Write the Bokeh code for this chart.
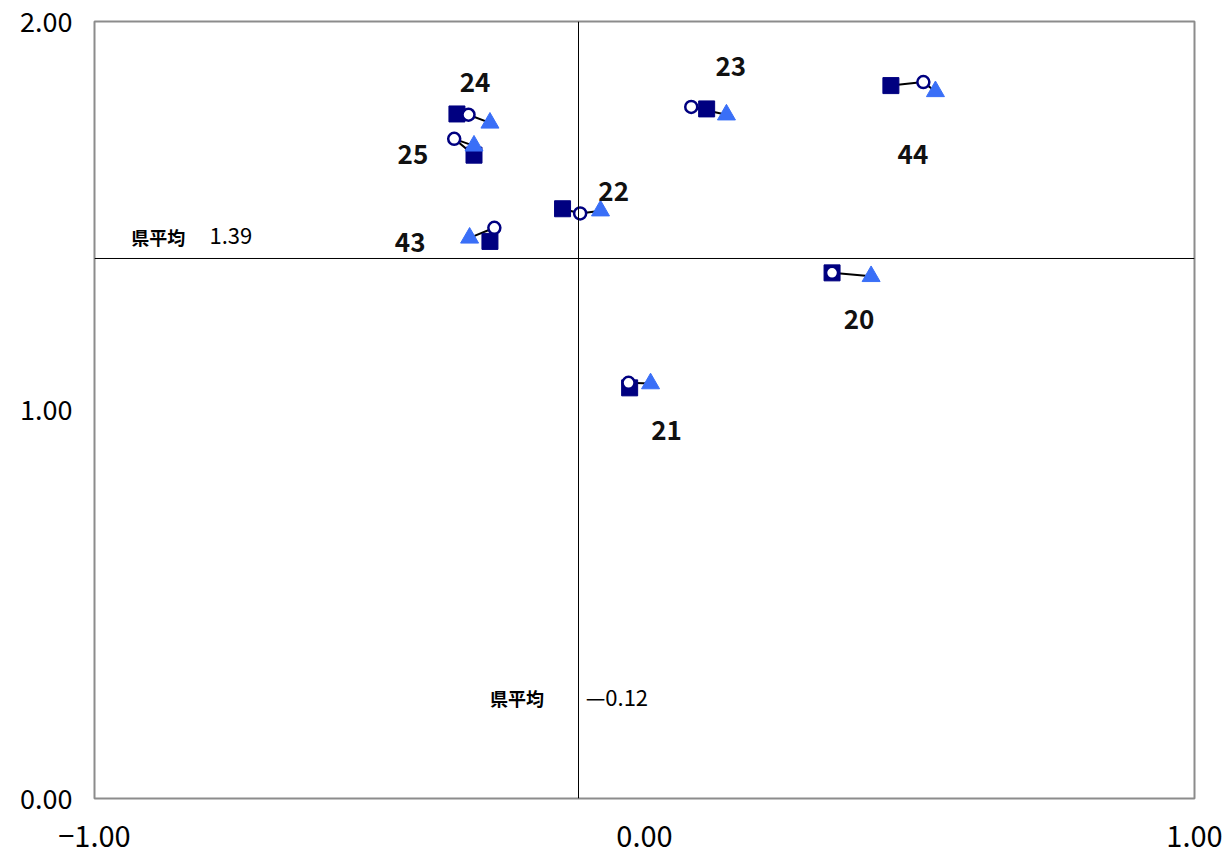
from bokeh.plotting import figure
from bokeh.models import Range1d, FixedTicker, Span
from bokeh.core.properties import value
from bokeh.embed import file_html
from bokeh.resources import INLINE

# ---- data ----
groups = ["24", "25", "22", "43", "23", "44", "20", "21"]
sq_x = [-0.341, -0.310, -0.149, -0.281, 0.113, 0.448, 0.341, -0.027]
sq_y = [1.762, 1.656, 1.518, 1.434, 1.775, 1.835, 1.353, 1.057]
ci_x = [-0.320, -0.346, -0.117, -0.273, 0.085, 0.507, 0.341, -0.029]
ci_y = [1.760, 1.698, 1.506, 1.469, 1.780, 1.844, 1.353, 1.070]
tr_x = [-0.281, -0.310, -0.080, -0.318, 0.149, 0.529, 0.412, 0.011]
tr_y = [1.739, 1.680, 1.513, 1.443, 1.760, 1.820, 1.344, 1.068]

# group label positions (data units)
lab_x = [-0.308, -0.421, -0.056, -0.426, 0.157, 0.488, 0.390, 0.040]
lab_y = [1.843, 1.658, 1.563, 1.432, 1.884, 1.658, 1.234, 0.946]

avg_x = -0.12
avg_y = 1.39

x_ticks = [-1, 0, 1]
x_tick_labels = ["\u22121.00", "0.00", "1.00"]
y_ticks = [0, 1, 2]
y_tick_labels = ["0.00", "1.00", "2.00"]

FONT = "Noto Sans CJK JP"

p = figure(width=1229, height=854,
           x_range=Range1d(-1, 1), y_range=Range1d(0, 2),
           output_backend="svg", toolbar_location=None,
           min_border_left=94, min_border_right=35,
           min_border_top=21, min_border_bottom=56)
p.grid.visible = False
p.outline_line_color = "#8c8c8c"
p.outline_line_width = 2
p.background_fill_color = "white"

for ax in (p.xaxis[0], p.yaxis[0]):
    ax.axis_line_color = None
    ax.major_tick_line_color = None
    ax.minor_tick_line_color = None
    ax.major_label_text_font = FONT
    ax.major_label_text_color = "black"

p.xaxis.major_label_text_font_size = "29px"
p.yaxis.major_label_text_font_size = "27px"

p.xaxis.ticker = FixedTicker(ticks=x_ticks)
p.xaxis.major_label_overrides = dict(zip(x_ticks, x_tick_labels))
p.xaxis.major_label_standoff = 21
p.yaxis.ticker = FixedTicker(ticks=y_ticks)
p.yaxis.major_label_overrides = dict(zip(y_ticks, y_tick_labels))
p.yaxis.major_label_standoff = 16

p.add_layout(Span(location=avg_x, dimension="height", line_color="black", line_width=1))
p.add_layout(Span(location=avg_y, dimension="width", line_color="black", line_width=1))

xs = [[a, b, c] for a, b, c in zip(sq_x, ci_x, tr_x)]
ys = [[a, b, c] for a, b, c in zip(sq_y, ci_y, tr_y)]
p.multi_line(xs=xs, ys=ys, line_color="black", line_width=2)

p.scatter(x=sq_x, y=sq_y, marker="square", size=16,
          fill_color="#000080", line_color="#000080")
p.scatter(x=ci_x, y=ci_y, marker="circle", size=12,
          fill_color="white", line_color="#000080", line_width=2.5)
p.scatter(x=tr_x, y=tr_y, marker="triangle", size=18,
          fill_color="#3a6ff7", line_color="#3a6ff7")

p.text(x=lab_x, y=lab_y, text=groups, text_font=value(FONT),
       text_font_size="26px", text_font_style="bold",
       text_align="center", text_baseline="middle", text_color="#111111")

# average annotations
p.text(x=[-0.933], y=[1.445], text=["県平均"], text_font=value(FONT),
       text_font_size="18px", text_font_style="bold",
       text_align="left", text_baseline="middle", text_color="black")
p.text(x=[-0.791], y=[1.447], text=[f"{avg_y:.2f}"], text_font=value(FONT),
       text_font_size="22px", text_align="left", text_baseline="middle",
       text_color="black")
p.text(x=[-0.281], y=[0.258], text=["県平均"], text_font=value(FONT),
       text_font_size="18px", text_font_style="bold",
       text_align="left", text_baseline="middle", text_color="black")
p.text(x=[-0.107], y=[0.265], text=["\u2014" + f"{abs(avg_x):.2f}"], text_font=value(FONT),
       text_font_size="22px", text_align="left", text_baseline="middle",
       text_color="black")

open("out.html", "w").write(file_html(p, INLINE))
